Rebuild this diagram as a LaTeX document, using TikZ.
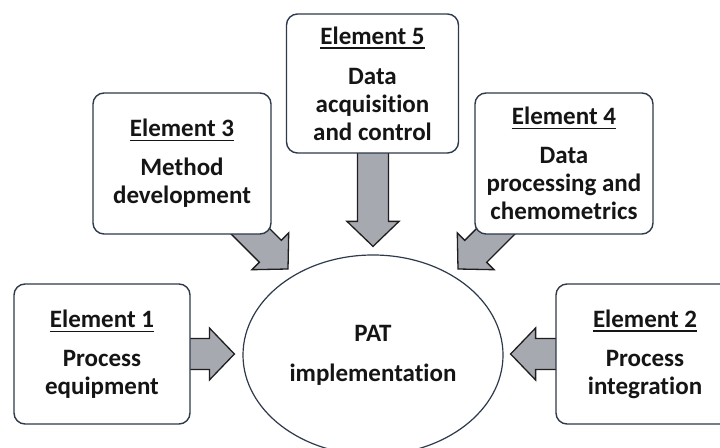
\documentclass[tikz,border=0pt]{standalone}
\usepackage{fontspec}
\setmainfont{Carlito}[Ligatures=NoCommon]
\usetikzlibrary{calc,shapes.geometric}
\definecolor{boxline}{HTML}{2E3A4B}
\definecolor{arrfill}{HTML}{A7A9B0}
\definecolor{arrline}{HTML}{1E1E1E}
\definecolor{txt}{HTML}{151515}
\newcommand\Ttl[1]{\setbox0\hbox{#1}\rlap{\rule[-4.5pt]{\wd0}{1.3pt}}\box0}
\def\ASW{15.5}\def\AHW{26}\def\AHL{25}
\newcommand\BlockArrow[3]{\filldraw[blockarrow,shift={(#1)},rotate=#2] (0,0) -- (-\AHL,\AHW) -- (-\AHL,\ASW) -- (-#3,\ASW) -- (-#3,-\ASW) -- (-\AHL,-\ASW) -- (-\AHL,-\AHW) -- cycle;}
\begin{document}
\begin{tikzpicture}[x=1pt,y=1pt,
  txtfont/.style={font=\fontsize{25}{28}\selectfont\bfseries, text=txt},
  box/.style={draw=boxline, line width=1.4pt, rounded corners=11pt, fill=white, align=center, inner sep=0pt, txtfont},
  blockarrow/.style={fill=arrfill, draw=arrline, line width=1.3pt, line join=miter}]
\useasboundingbox (0,0) rectangle (720,447);
\clip (0,0) rectangle (720,447);
\fill[white] (0,0) rectangle (720,447);
% central ellipse
\node[draw=boxline, line width=1.2pt, ellipse, minimum width=260pt, minimum height=200pt, inner sep=0pt, align=center, fill=white, txtfont] (pat) at (373,92) {PAT\\[12pt]implementation};
% arrow tips
\coordinate (tD) at ($(pat.north)+(0,8)$);
\coordinate (tR) at ($(pat.west)+(-8,1)$);
\coordinate (tL) at ($(pat.east)+(7,1)$);
\coordinate (tNW) at ($(pat.center)+(-85,86)$);
\coordinate (tNE) at ($(pat.center)+(85,86)$);
% block arrows (drawn beneath the boxes)
\BlockArrow{tD}{-90}{110}
\BlockArrow{tR}{0}{60}
\BlockArrow{tL}{180}{60}
\BlockArrow{tNW}{-45}{82}
\BlockArrow{tNE}{-135}{82}
% element boxes
\node[box, minimum width=172pt, minimum height=139pt] (e5) at (372.5,363.5) {\Ttl{Element 5}\\[12pt]Data\\acquisition\\and control};
\node[box, minimum width=178pt, minimum height=141pt] (e3) at (182,283.5) {\Ttl{Element 3}\\[11pt]Method\\development};
\node[box, minimum width=178pt, minimum height=141pt] (e4) at (564,283.5) {\Ttl{Element 4}\\[11pt]Data\\processing and\\chemometrics};
\node[box, minimum width=176pt, minimum height=140pt] (e1) at (102,93) {\Ttl{Element 1}\\[11pt]Process\\equipment};
\node[box, minimum width=178pt, minimum height=140pt] (e2) at (645,93) {\Ttl{Element 2}\\[11pt]Process\\integration};
\end{tikzpicture}
\end{document}
